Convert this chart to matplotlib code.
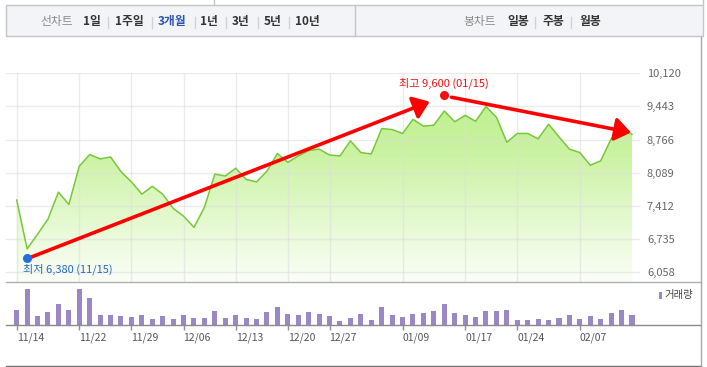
import numpy as np
import matplotlib
matplotlib.use('Agg')
import matplotlib.pyplot as plt
from matplotlib.patches import Rectangle, Polygon
from matplotlib.lines import Line2D
from matplotlib.colors import LinearSegmentedColormap
from matplotlib.transforms import offset_copy

plt.rcParams['font.family'] = ['Noto Sans CJK KR', 'DejaVu Sans']

# ---------------- data ----------------
prices = [7530, 6530, 6830, 7140, 7690, 7440, 8220, 8460, 8370, 8410,
          8110, 7900, 7650, 7810, 7650, 7360, 7200, 6970, 7380, 8060,
          8020, 8180, 7950, 7900, 8120, 8480, 8300, 8430, 8540, 8570,
          8450, 8430, 8740, 8500, 8470, 8990, 8970, 8890, 9180, 9040,
          9060, 9350, 9130, 9260, 9140, 9440, 9220, 8710, 8890, 8890,
          8780, 9080, 8820, 8570, 8500, 8240, 8330, 8780, 9050, 8870]
volumes = [153, 363, 93, 133, 213, 153, 363, 273, 103, 103,
           93, 83, 103, 63, 93, 63, 103, 73, 73, 143,
           73, 103, 73, 63, 133, 183, 113, 103, 133, 113,
           93, 43, 73, 113, 53, 183, 103, 83, 113, 123,
           143, 213, 123, 103, 83, 143, 143, 153, 53, 53,
           63, 53, 73, 103, 63, 93, 63, 123, 153, 103]
volumes = [v * 1000 for v in volumes]
date_tick_idx = [0, 6, 11, 16, 21, 26, 30, 37, 43, 48, 54]
date_tick_labels = ['11/14', '11/22', '11/29', '12/06', '12/13', '12/20',
                    '12/27', '01/09', '01/17', '01/24', '02/07']
price_ticks = [6058, 6735, 7412, 8089, 8766, 9443, 10120]
low_idx, low_val, low_date = 1, 6380, '11/15'
high_idx, high_val, high_date = 41, 9600, '01/15'
left_tabs = ['선차트', '1일', '1주일', '3개월', '1년', '3년', '5년', '10년']
right_tabs = ['봉차트', '일봉', '주봉', '월봉']
vol_legend = '거래량'

# ---------------- figure ----------------
W, H = 707, 367
fig = plt.figure(figsize=(W / 100, H / 100), dpi=100)


def fx(x):
    return x / W


def fy(y):
    return 1 - y / H


def add_axes_px(l, t, r, b):
    return fig.add_axes([l / W, 1 - b / H, (r - l) / W, (b - t) / H])


def hline(x0, x1, y, color, lw=1.0):
    fig.add_artist(Line2D([fx(x0), fx(x1)], [fy(y), fy(y)], color=color, lw=lw))


def vline(x, y0, y1, color, lw=1.0):
    fig.add_artist(Line2D([fx(x), fx(x)], [fy(y0), fy(y1)], color=color, lw=lw))


n = len(prices)
x = np.arange(n)
step = (632 - 16.7) / (n - 1)
xmin = -(16.7 - 6) / step
xmax = (n - 1) + (640 - 632) / step

# ---------------- tab bar ----------------
fig.add_artist(Rectangle((fx(6), fy(36)), fx(703) - fx(6), fy(5) - fy(36),
                         facecolor='#f3f4f7', edgecolor='#c6c6c6', lw=1.0))
vline(355, 5, 36, '#c6c6c6')
vline(214, 0, 5, '#c6c6c6')

left_x = [40, 83, 115, 158, 200, 232, 264, 295]
for i, (t, xx) in enumerate(zip(left_tabs, left_x)):
    if i == 0:
        c, w = '#8a8a8a', 'normal'
    elif t == '3개월':
        c, w = '#2c52b0', 'bold'
    else:
        c, w = '#333333', 'bold'
    fig.text(fx(xx), fy(22), t, color=c, fontweight=w, fontsize=8.5,
             ha='left', va='center')
for xx in [108, 152, 195, 226, 258, 289]:
    vline(xx, 17, 28, '#d2d2d2')

right_x = [463, 507, 543, 579]
for i, (t, xx) in enumerate(zip(right_tabs, right_x)):
    c, w = ('#8a8a8a', 'normal') if i == 0 else ('#333333', 'bold')
    fig.text(fx(xx), fy(22), t, color=c, fontweight=w, fontsize=8.5,
             ha='left', va='center')
for xx in [535, 571]:
    vline(xx, 17, 28, '#d2d2d2')

# ---------------- price axes ----------------
ax = add_axes_px(6, 73.3, 640, 282.3)
y_top = price_ticks[-1]
val_per_px = (price_ticks[-1] - price_ticks[0]) / (272.0 - 73.3)
y_bot = y_top - (282.3 - 73.3) * val_per_px

grad = np.linspace(0, 1, 256).reshape(-1, 1)
cmap = LinearSegmentedColormap.from_list(
    'g', [(0, '#bbef88'), (0.35, '#c8f29e'), (0.7, '#e4f9cf'), (1, '#fbfef7')])
im = ax.imshow(grad, extent=[xmin, xmax, y_bot, y_top], aspect='auto',
               cmap=cmap, origin='upper', zorder=1, interpolation='bilinear')
poly = Polygon(np.column_stack([np.r_[x, x[-1], x[0]],
                                np.r_[prices, y_bot, y_bot]]),
               closed=True, facecolor='none', edgecolor='none')
ax.add_patch(poly)
im.set_clip_path(poly)

ax.plot(x, prices, color='#78c83a', lw=1.1, zorder=3)

ax.set_xlim(xmin, xmax)
ax.set_ylim(y_bot, y_top)
ax.set_xticks(date_tick_idx)
ax.set_yticks(price_ticks)
ax.set_yticklabels([f'{v:,}' for v in price_ticks])
ax.yaxis.tick_right()
ax.tick_params(axis='y', length=0, pad=5, labelsize=8, labelcolor='#666666')
ax.tick_params(axis='x', length=0, labelbottom=False)
ax.grid(True, color='#dedede', lw=1.0, alpha=0.6)
ax.set_axisbelow(False)
for s in ax.spines.values():
    s.set_visible(False)

# low / high markers
ax.plot(low_idx, low_val, 'o', color='#1f6fdc', ms=5.5, zorder=6,
        transform=offset_copy(ax.transData, fig, y=-2, units='dots'))
ax.annotate(f'최저 {low_val:,} ({low_date})', xy=(low_idx, low_val),
            xytext=(-4, -13), textcoords='offset pixels', ha='left',
            va='center', color='#2266cc', fontsize=8, zorder=6)
ax.plot(high_idx, high_val, 'o', color='#ee1111', ms=5.5, zorder=6,
        transform=offset_copy(ax.transData, fig, y=4, units='dots'))
ax.annotate(f'최고 {high_val:,} ({high_date})', xy=(high_idx, high_val),
            xytext=(0, 15), textcoords='offset pixels', ha='center',
            va='center', color='#ee1111', fontsize=8, zorder=6)

# hand-drawn red arrows
aprops = dict(arrowstyle='-|>,head_length=0.95,head_width=0.7', color='#ff0000',
              lw=2.6, shrinkA=0, shrinkB=0, mutation_scale=10)
ax.annotate('', xy=(high_idx - 1.4, high_val - 60),
            xytext=(low_idx, low_val - 50), arrowprops=aprops, zorder=5)
ax.annotate('', xy=(n - 1.1, prices[-1] + 40),
            xytext=(high_idx + 0.7, high_val + 30), arrowprops=aprops, zorder=5)

# ---------------- volume axes ----------------
axv = add_axes_px(6, 282.3, 640, 325.3)
axv.bar(x, volumes, width=0.48, color='#9b86c6', zorder=2)
axv.set_xlim(xmin, xmax)
axv.set_ylim(0, 430000)
axv.set_yticks([])
axv.set_xticks(date_tick_idx)
axv.set_xticklabels(date_tick_labels)
for lab in axv.get_xticklabels():
    lab.set_ha('left')
axv.tick_params(axis='x', length=3.6, width=1, color='#909090', pad=1.5,
                labelsize=7.5, labelcolor='#555555')
for s in axv.spines.values():
    s.set_visible(False)

hline(6, 701, 282.3, '#b0b0b0')
hline(6, 701, 325.3, '#8a8a8a')
hline(6, 701, 366, '#707070')
vline(701, 37, 367, '#a8a8a8')
vline(703, 0, 5, '#c6c6c6')

# volume legend
fig.add_artist(Rectangle((fx(659), fy(298.5)), 2.5 / W, 6.5 / H,
                         facecolor='#9b86c6', edgecolor='none'))
fig.text(fx(664), fy(295), vol_legend, fontsize=7.5, color='#444444',
         ha='left', va='center')

fig.savefig('out.png', dpi=100)
